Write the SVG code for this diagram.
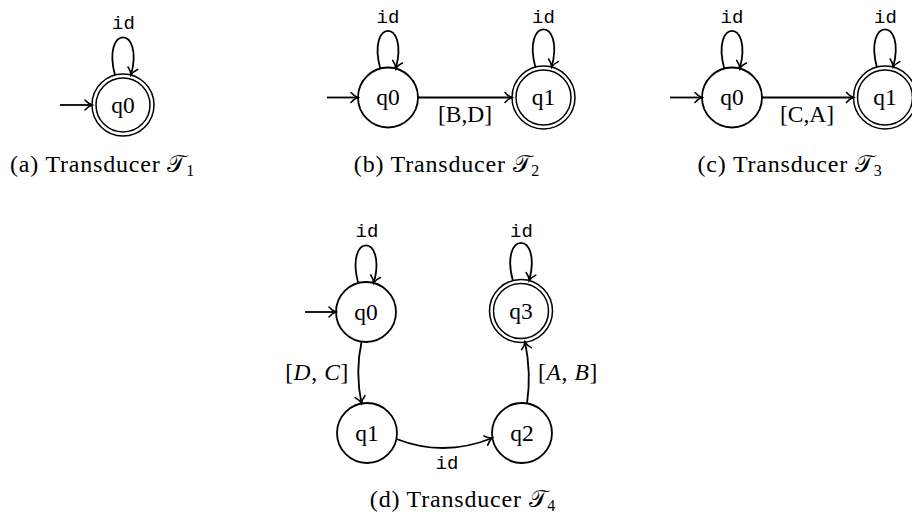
<svg xmlns="http://www.w3.org/2000/svg" width="912" height="520" viewBox="0 0 912 520">
<style>
.st{fill:#fff;stroke:#000;stroke-width:1.8}
.acc{fill:none;stroke:#000;stroke-width:1.5}
.lb{font-family:"Liberation Serif","Times New Roman",serif;font-size:23.5px;text-anchor:middle;fill:#000}
.tt{font-family:"Liberation Mono","Courier New",monospace;font-size:19px;text-anchor:middle;fill:#000}
.cap{font-family:"Liberation Serif","Times New Roman",serif;font-size:24px;letter-spacing:0.8px;text-anchor:middle;fill:#000}
.e{fill:none;stroke:#000;stroke-width:1.8;marker-end:url(#arr)}
</style>
<defs>
<marker id="arr" viewBox="-8 -6 10 12" markerWidth="10" markerHeight="12" refX="0" refY="0" orient="auto" markerUnits="userSpaceOnUse" overflow="visible">
<path d="M-7,-5 C-4.5,-2 -1.5,-0.5 0,0 C-1.5,0.5 -4.5,2 -7,5" fill="none" stroke="#000" stroke-width="1.6" stroke-linecap="round"/>
</marker>
</defs>
<rect width="912" height="520" fill="#fff"/>

<!-- Panel (a) -->
<g id="a-q0">
<circle class="acc" cx="123" cy="105" r="31"/>
<circle class="acc" cx="123" cy="105" r="27"/>
<text class="lb" x="123" y="113">q0</text>
</g>
<g id="a-edges">
<path class="e" d="M60,105 H92"/>
<path class="e" d="M114.97,75.05 C101.5,24.8 144.5,24.8 131.03,75.05"/>
<text class="tt" x="123.5" y="29">id</text>
</g>
<text class="cap" x="102.5" y="172">(a) Transducer 𝒯<tspan font-size="16" dy="4">1</tspan></text>

<!-- Panel (b) -->
<g id="b-q0">
<circle class="st" cx="388" cy="97.5" r="30"/>
<text class="lb" x="388" y="105">q0</text>
</g>
<g id="b-q1">
<circle class="acc" cx="543.5" cy="97.5" r="31.5"/>
<circle class="acc" cx="543.5" cy="97.5" r="27.5"/>
<text class="lb" x="543.5" y="105">q1</text>
</g>
<g id="b-edges">
<path class="e" d="M327,97.5 H358"/>
<path class="e" d="M418,97.5 H512"/>
<text class="lb" x="465" y="122">[B,D]</text>
<path class="e" d="M380.23,68.52 C366.76,18.3 409.24,18.3 395.77,68.52"/>
<text class="tt" x="388" y="23">id</text>
<path class="e" d="M535.34,67.07 C521.87,16.84 565.13,16.84 551.66,67.07"/>
<text class="tt" x="543.5" y="23">id</text>
</g>
<text class="cap" x="447" y="172">(b) Transducer 𝒯<tspan font-size="16" dy="4">2</tspan></text>

<!-- Panel (c) -->
<g id="c-q0">
<circle class="st" cx="732" cy="97.5" r="30"/>
<text class="lb" x="732" y="105">q0</text>
</g>
<g id="c-q1">
<circle class="acc" cx="885" cy="97.5" r="31.5"/>
<circle class="acc" cx="885" cy="97.5" r="27.5"/>
<text class="lb" x="885" y="105">q1</text>
</g>
<g id="c-edges">
<path class="e" d="M670,97.5 H702"/>
<path class="e" d="M762,97.5 H853.5"/>
<text class="lb" x="807" y="122">[C,A]</text>
<path class="e" d="M724.23,68.52 C710.76,18.3 753.24,18.3 739.77,68.52"/>
<text class="tt" x="732" y="23">id</text>
<path class="e" d="M876.84,67.07 C863.37,16.84 906.63,16.84 893.16,67.07"/>
<text class="tt" x="885.5" y="23">id</text>
</g>
<text class="cap" x="790" y="172">(c) Transducer 𝒯<tspan font-size="16" dy="4">3</tspan></text>

<!-- Panel (d) -->
<g id="d-q0">
<circle class="st" cx="366" cy="312" r="30"/>
<text class="lb" x="366" y="320">q0</text>
</g>
<g id="d-q1">
<circle class="st" cx="367" cy="433" r="30"/>
<text class="lb" x="367" y="441">q1</text>
</g>
<g id="d-q2">
<circle class="st" cx="522" cy="433" r="30"/>
<text class="lb" x="522" y="441">q2</text>
</g>
<g id="d-q3">
<circle class="acc" cx="521" cy="311" r="31.5"/>
<circle class="acc" cx="521" cy="311" r="27.5"/>
<text class="lb" x="521" y="319">q3</text>
</g>
<g id="d-edges">
<path class="e" d="M305,312 H336"/>
<path class="e" d="M358.23,283.02 C344.76,232.8 387.24,232.8 373.77,283.02"/>
<text class="tt" x="367" y="237">id</text>
<path class="e" d="M512.84,280.57 C499.37,230.34 542.63,230.34 529.16,280.57"/>
<text class="tt" x="521.5" y="237">id</text>
<path class="e" d="M361.5,342 Q355,372 361.5,403.5"/>
<text class="lb" x="317" y="380" letter-spacing="0.6">[<tspan font-style="italic">D</tspan>, <tspan font-style="italic">C</tspan>]</text>
<path class="e" d="M527,403.5 Q531.5,373 525,341.8"/>
<text class="lb" x="568" y="380" letter-spacing="0.6">[<tspan font-style="italic">A</tspan>, <tspan font-style="italic">B</tspan>]</text>
<path class="e" d="M396.5,439 Q444,457.5 492.3,438"/>
<text class="tt" x="447" y="469">id</text>
</g>
<text class="cap" x="463" y="507">(d) Transducer 𝒯<tspan font-size="16" dy="4">4</tspan></text>
</svg>
